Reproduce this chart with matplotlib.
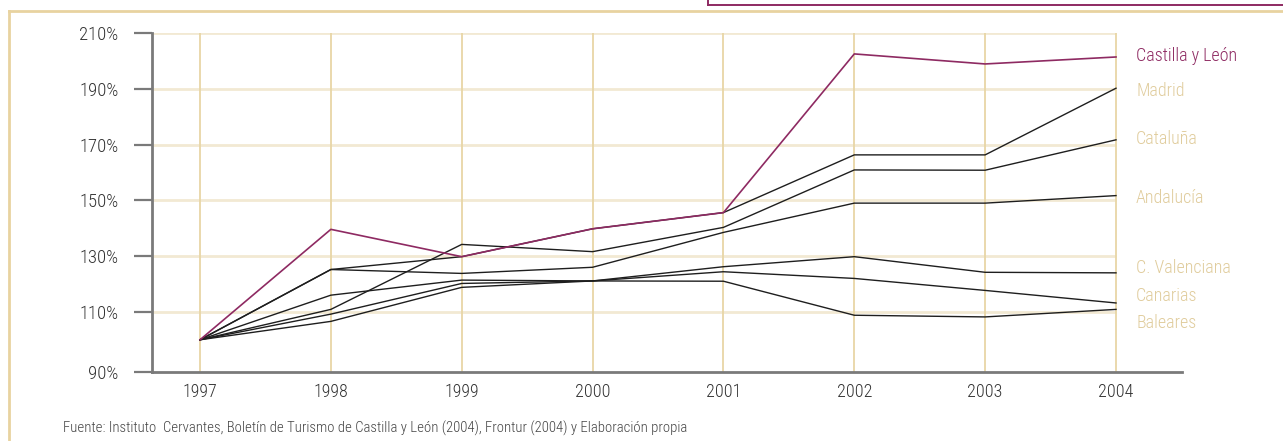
import matplotlib
matplotlib.use("Agg")
import matplotlib.pyplot as plt
from matplotlib import font_manager as fm
from matplotlib.lines import Line2D

# ---------------- data ----------------
years = [1997, 1998, 1999, 2000, 2001, 2002, 2003, 2004]
castilla_leon = [100, 139.6, 129.8, 139.8, 145.6, 202.5, 198.9, 201.4]
madrid        = [100, 125.2, 129.8, 139.8, 145.6, 166.3, 166.3, 190.2]
cataluna      = [100, 110.9, 134.2, 131.6, 140.3, 160.9, 160.8, 171.7]
andalucia     = [100, 125.2, 123.8, 126.0, 138.5, 149.0, 149.0, 151.7]
c_valenciana  = [100, 116.0, 121.4, 121.1, 126.2, 129.8, 124.2, 124.0]
canarias      = [100, 109.2, 120.2, 121.1, 124.4, 122.0, 117.7, 113.2]
baleares      = [100, 106.6, 118.8, 121.1, 121.0, 108.8, 108.2, 110.9]

series_names = ["Castilla y León", "Madrid", "Cataluña", "Andalucía",
                "C. Valenciana", "Canarias", "Baleares"]
series_values = [castilla_leon, madrid, cataluna, andalucia,
                 c_valenciana, canarias, baleares]
# label anchor values (vertical position of the right-hand labels)
label_values = [201.8, 189.2, 172.0, 150.8, 125.8, 115.8, 106.0]

ytick_values = [110, 130, 150, 170, 190, 210]
ytick_labels = ["90%", "110%", "130%", "150%", "170%", "190%", "210%"]
source_text = ("Fuente: Instituto  Cervantes, Boletín de Turismo de Castilla y León (2004), "
               "Frontur (2004) y Elaboración propia")

# ---------------- style ----------------
MAGENTA = "#8E2A62"
GOLD_TXT = "#E0CC9C"
GOLD_V = "#E8D6A6"
GOLD_H = "#F2E9D3"
FRAME = "#E8D3A0"
AXIS = "#7A7A7A"
TXT = "#333333"

names = {f.name for f in fm.fontManager.ttflist}
font = "DejaVu Sans"
for cand in ["Roboto Condensed", "Liberation Sans Narrow", "Roboto"]:
    if cand in names:
        font = cand
        break
plt.rcParams["font.family"] = [font, "DejaVu Sans"]
plt.rcParams["font.weight"] = "light"

W, H = 1283, 441
fig = plt.figure(figsize=(W / 100, H / 100), dpi=100)

left_px, right_px, top_px, bottom_px = 152, 1182, 33, 372
ax = fig.add_axes([left_px / W, 1 - bottom_px / H,
                   (right_px - left_px) / W, (bottom_px - top_px) / H])
ax.set_facecolor("none")

x0 = years[0]
x_step = 130.86
xlim = (x0 - (200 - left_px) / x_step, years[-1] + (right_px - 1116) / x_step)
ax.set_xlim(*xlim)
ymin = 88.45
ax.set_ylim(ymin, 210)

# gridlines
ax.hlines(ytick_values, xlim[0], years[-1], colors=GOLD_H, lw=2, zorder=1)
ax.vlines(years, ymin, 210, colors=GOLD_V, lw=1.3, zorder=1)

# data lines
for name, vals in zip(series_names, series_values):
    if name == "Castilla y León":
        continue
    ax.plot(years, vals, color="#1E1E1E", lw=1.0, zorder=3)
ax.plot(years, castilla_leon, color=MAGENTA, lw=1.2, zorder=4)

# right labels
for i, (name, lv) in enumerate(zip(series_names, label_values)):
    ax.text(years[-1] + 20 / x_step, lv, name, fontsize=13,
            color=MAGENTA if i == 0 else GOLD_TXT, va="center", ha="left",
            clip_on=False)

# spines and ticks
for s in ["top", "right"]:
    ax.spines[s].set_visible(False)
for s in ["left", "bottom"]:
    ax.spines[s].set_color(AXIS)
    ax.spines[s].set_linewidth(2)
ax.set_yticks([ymin] + ytick_values)
ax.set_yticklabels(ytick_labels)
ax.set_xticks(years)
ax.set_xticklabels([str(y) for y in years])
ax.tick_params(axis="y", length=13, width=1.6, color=AXIS, pad=11,
               labelsize=13.5, labelcolor=TXT)
ax.tick_params(axis="x", length=0, pad=8, labelsize=13, labelcolor=TXT)

# frame decorations
fig.add_artist(Line2D([9 / W, 1], [1 - 11 / H, 1 - 11 / H], color=FRAME, lw=2,
                      transform=fig.transFigure))
fig.add_artist(Line2D([9 / W, 9 / W], [0, 1 - 11 / H], color=FRAME, lw=2,
                      transform=fig.transFigure))
fig.add_artist(Line2D([708 / W, 1], [1 - 4.5 / H, 1 - 4.5 / H], color=MAGENTA, lw=1.4,
                      transform=fig.transFigure))
fig.add_artist(Line2D([708 / W, 708 / W], [1 - 4.5 / H, 1], color=MAGENTA, lw=1.4,
                      transform=fig.transFigure))

fig.text(63 / W, 1 - 428 / H, source_text, fontsize=10.6, color="#444444",
         va="center", ha="left")

fig.savefig("out.png", dpi=100)
